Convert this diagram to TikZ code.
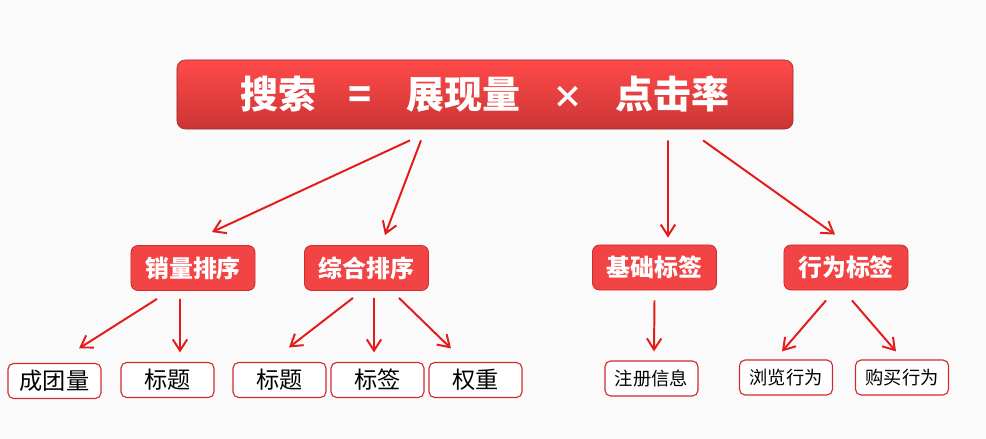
\documentclass[tikz,border=0pt]{standalone}
\usepackage{fontspec}
\newfontfamily\cjk{Noto Sans CJK SC}
\usetikzlibrary{arrows.meta,calc}

\definecolor{bgcol}{HTML}{FAFAFA}
\definecolor{redtop}{HTML}{FF4A4A}
\definecolor{redbot}{HTML}{CC3535}
\definecolor{redfill}{HTML}{F24444}
\definecolor{redline}{HTML}{D02C2C}
\definecolor{arrowred}{HTML}{E41B1B}

\begin{document}
\begin{tikzpicture}[
  x=0.025cm, y=-0.025cm,
  formula/.style={
    minimum width=15.4cm, minimum height=1.725cm, inner sep=0pt,
    top color=redtop, bottom color=redbot, draw=redbot!80!black,
    line width=0.5pt, rounded corners=6pt,
    text=white, font=\cjk\bfseries\fontsize{27pt}{30pt}\selectfont
  },
  factor/.style={
    minimum width=3.1cm, minimum height=1.125cm, inner sep=0pt,
    fill=redfill, draw=redline, line width=0.6pt, rounded corners=5pt,
    text=white, font=\cjk\bfseries\fontsize{17pt}{20pt}\selectfont
  },
  leaf/.style={
    minimum width=2.325cm, minimum height=0.875cm, inner sep=0pt,
    fill=white, draw=redline, line width=0.8pt, rounded corners=4pt,
    font=\cjk\fontsize{16.5pt}{19pt}\selectfont
  },
  leafsmall/.style={leaf, font=\cjk\fontsize{13pt}{16pt}\selectfont},
  link/.style={draw=arrowred, line width=1.4pt,
    -{Straight Barb[length=2.8mm, width=3.6mm]}}
]

% ================= BACKGROUND =================
\fill[bgcol] (0,0) rectangle (986,439);
\useasboundingbox (0,0) rectangle (986,439);

% ================= FORMULA =================
\node[formula] (search) at (485,94.5)
  {搜索\hspace{0.85em}=\hspace{0.9em}展现量\hspace{0.85em}{\fontsize{22pt}{22pt}\selectfont ×}\hspace{0.85em}点击率};

% ================= FACTORS =================
\node[factor] (sales)  at (193,268)   {销量排序};
\node[factor] (overall) at (366.5,268) {综合排序};
\node[factor] (basic)  at (654.5,267.5) {基础标签};
\node[factor] (behav)  at (846,267.5)   {行为标签};

% ================= LEAVES =================
\node[leaf] (group)  at (54.5,381)  {成团量};
\node[leaf] (titleA) at (167.5,380) {标题};
\node[leaf] (titleB) at (279.5,380) {标题};
\node[leaf] (tag)    at (377.5,380) {标签};
\node[leaf] (weight) at (475.5,380) {权重};

\node[leafsmall] (reg)    at (651.5,378.5) {注册信息};
\node[leafsmall] (browse) at (786,377.5)   {浏览行为};
\node[leafsmall] (buy)    at (902,377.5)   {购买行为};

% ================= ARROWS =================
\draw[link] ($(search.south)+(-75,11)$) -- ($(sales.north)+(19,-13)$);
\draw[link] ($(search.south)+(-64,11)$) -- ($(overall.north)+(18.5,-10)$);
\draw[link] ($(search.south)+(183,11)$) -- ($(basic.north)+(13.5,-7)$);
\draw[link] ($(search.south)+(218,11)$) -- ($(behav.north)+(-11,-10)$);

\draw[link] ($(sales.south)+(-36,8)$) -- ($(group.north)+(24.5,-14.5)$);
\draw[link] ($(sales.south)+(-13,8)$) -- ($(titleA.north)+(12.5,-9.5)$);

\draw[link] ($(overall.south)+(-13.5,7)$) -- ($(titleB.north)+(9.5,-14.5)$);
\draw[link] ($(overall.south)+(7.5,7)$)   -- ($(tag.north)+(-3.5,-9.5)$);
\draw[link] ($(overall.south)+(32.5,7)$)  -- ($(weight.north)+(-24.5,-13.5)$);

\draw[link] ($(basic.south)+(0,10)$) -- ($(reg.north)+(2.5,-9)$);
\draw[link] ($(behav.south)+(-20,10)$) -- ($(browse.north)+(-4,-8)$);
\draw[link] ($(behav.south)+(6,10)$)   -- ($(buy.north)+(-6,-8)$);

\end{tikzpicture}
\end{document}
